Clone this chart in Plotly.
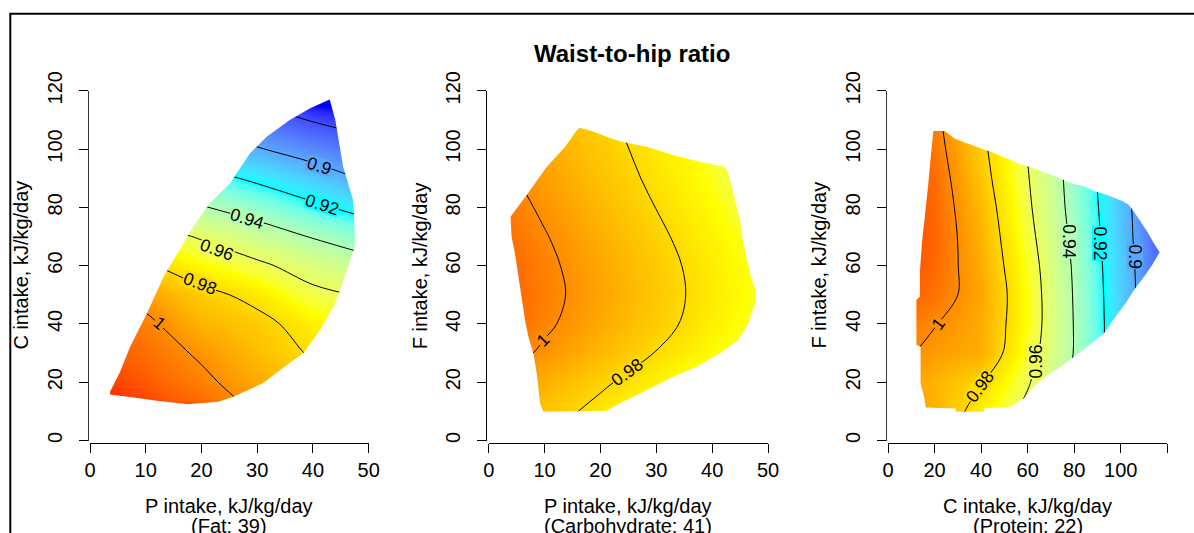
import numpy as np
import plotly.graph_objects as go

FONT = "Liberation Sans, Arial, Helvetica, sans-serif"
W, H = 1194, 533

# ---------------------------------------------------------------- data
title = "Waist-to-hip ratio"
levels = [0.88, 0.90, 0.92, 0.94, 0.96, 0.98, 1.00]
z_lo, z_hi = 0.87, 1.02

grid_y = [0, 10, 20, 30, 40, 50, 60, 70, 80, 90, 100, 110, 120]

# Panel 1: protein (x) vs carbohydrate (y), fat held at 39
p1_x = [0, 10, 20, 30, 40, 50]
p1_z = [
    [1.026, 1.020, 1.016, 1.002, 0.990, 0.987],
    [1.022, 1.016, 1.011, 0.998, 0.988, 0.984],
    [1.018, 1.011, 1.003, 0.993, 0.985, 0.980],
    [1.013, 1.007, 0.998, 0.988, 0.9785, 0.975],
    [1.008, 1.003, 0.990, 0.984, 0.974, 0.967],
    [1.002, 0.995, 0.984, 0.976, 0.9637, 0.958],
    [0.992, 0.982, 0.971, 0.963, 0.953, 0.946],
    [0.978, 0.967, 0.9585, 0.948, 0.939, 0.930],
    [0.962, 0.950, 0.941, 0.933, 0.923, 0.914],
    [0.946, 0.934, 0.926, 0.917, 0.908, 0.898],
    [0.930, 0.918, 0.910, 0.901, 0.893, 0.886],
    [0.914, 0.902, 0.895, 0.887, 0.879, 0.873],
    [0.898, 0.886, 0.880, 0.874, 0.862, 0.858],
]
p1_hull_x = [43, 44, 45.4, 47.2, 47.5, 47.5, 46.1, 44, 41.3, 38.3, 35, 31, 25.7, 23,
             17.6, 12, 8.1, 3.6, 3.6, 5.4, 7.2, 10.2, 13.2, 16.4, 18.5, 21.5, 25.1,
             28.7, 31.7, 35.9, 39.5]
p1_hull_y = [117, 110, 94, 82.5, 72, 66.5, 58.5, 47, 38, 30, 25.5, 19.6, 15, 13.3,
             12.4, 13.6, 14.7, 15.8, 16.7, 23.6, 32.2, 43.6, 56.2, 66.5, 73.3, 81.4,
             88.2, 98.5, 104.2, 110, 114]

# Panel 2: protein (x) vs fat (y), carbohydrate held at 41
p2_x = [0, 10, 20, 30, 40, 50]
p2_z = [
    [0.9907, 0.9800, 0.9707, 0.9614, 0.9520, 0.9430],
    [0.9949, 0.9856, 0.9763, 0.9670, 0.9577, 0.9484],
    [1.0008, 0.9915, 0.9822, 0.9729, 0.9636, 0.9543],
    [1.0074, 0.9981, 0.9889, 0.9796, 0.9704, 0.9611],
    [1.0112, 1.0020, 0.9928, 0.9837, 0.9745, 0.9653],
    [1.0128, 1.0035, 0.9942, 0.9849, 0.9756, 0.9663],
    [1.0118, 1.0026, 0.9934, 0.9842, 0.9750, 0.9658],
    [1.0099, 1.0007, 0.9915, 0.9823, 0.9731, 0.9639],
    [1.0073, 0.9982, 0.9890, 0.9798, 0.9707, 0.9615],
    [1.0047, 0.9956, 0.9865, 0.9775, 0.9684, 0.9593],
    [1.0021, 0.9933, 0.9845, 0.9757, 0.9669, 0.9581],
    [0.9996, 0.9910, 0.9825, 0.9740, 0.9655, 0.9570],
    [0.9970, 0.9886, 0.9803, 0.9720, 0.9636, 0.9553],
]
p2_hull_x = [3.9, 6.8, 10.4, 13.7, 15.8, 16.3, 18.7, 21.1, 23.8, 28.3, 33, 37.8, 42.3,
             42.9, 43.8, 45, 45.6, 46.8, 47.7, 47.7, 46.5, 44.7, 41.4, 37.2, 33, 28.3,
             23.5, 21.1, 9.8, 9.2, 8.6, 8, 7.1, 6.5, 5.6, 4.7, 4.1]
p2_hull_y = [76.8, 84.2, 93.9, 100.8, 106.5, 107.3, 106, 104.2, 102.5, 100.8, 97.9,
             95.6, 93.9, 91.7, 84.8, 75.6, 67.6, 57.4, 51.6, 47.1, 40.2, 34.5, 29.9,
             25.3, 21.9, 17.3, 12.8, 10.2, 9.9, 12.8, 23, 29.9, 35.6, 41.3, 52.8, 64.2,
             69.9]

# Panel 3: carbohydrate (x) vs fat (y), protein held at 22
p3_x = [0, 20, 40, 60, 80, 100, 120]
p3_z = [
    [0.998, 0.9900, 0.9680, 0.9520, 0.9340, 0.9130, 0.8880],
    [0.999, 0.9913, 0.9739, 0.9560, 0.9353, 0.9120, 0.8860],
    [0.998, 0.9900, 0.9810, 0.9615, 0.9373, 0.9107, 0.8840],
    [1.005, 0.9960, 0.9918, 0.9664, 0.9394, 0.9096, 0.8820],
    [1.008, 1.0006, 0.9925, 0.9691, 0.9394, 0.9095, 0.8820],
    [1.013, 1.0060, 0.9940, 0.9691, 0.9389, 0.9090, 0.8814],
    [1.016, 1.0083, 0.9920, 0.9675, 0.9381, 0.9083, 0.8806],
    [1.016, 1.0091, 0.9905, 0.9649, 0.9363, 0.9074, 0.8790],
    [1.016, 1.0085, 0.9885, 0.9626, 0.9345, 0.9067, 0.8783],
    [1.014, 1.0074, 0.9856, 0.9609, 0.9336, 0.9052, 0.8756],
    [1.012, 1.0052, 0.9834, 0.9593, 0.9327, 0.9044, 0.8748],
    [1.010, 1.0032, 0.9816, 0.9581, 0.9320, 0.9037, 0.8741],
    [1.008, 1.0010, 0.9800, 0.9570, 0.9310, 0.9030, 0.8730],
]
p3_hull_x = [19.5, 24.3, 28.4, 32.6, 36.9, 40.5, 44.8, 48.4, 52, 55.8, 60.6, 64.4, 68,
             72.7, 76.3, 79.9, 84.6, 88.5, 92.8, 97.1, 100.7, 103.5, 105.7, 108.5,
             111.4, 114.3, 116.7, 113.5, 110, 105.7, 102.1, 97.8, 92.8, 85.6, 79.9,
             74.2, 68.4, 62.7, 58.4, 52.7, 41.2, 41.2, 29.1, 29.1, 16.2, 15.5, 14, 14,
             12.2, 12.2, 13.7, 13.7, 14.7, 15.9, 17.2, 18.3]
p3_hull_y = [106.2, 106.2, 103.7, 102.3, 101.1, 100, 98.9, 97.6, 96.5, 95.1, 93.9, 92.8,
             91.7, 90.4, 89.1, 88, 87.1, 85.6, 84.6, 83.3, 82.2, 80.8, 78.5, 75.1, 71.6,
             67.6, 64.6, 60.2, 56.2, 51.6, 47.1, 42.5, 36.8, 32.2, 28.7, 25.3, 22.5,
             18.5, 14.5, 11.6, 11, 9.9, 9.9, 11, 11.3, 15, 19.6, 32.2, 32.8, 48.2, 49.3,
             57.9, 68.8, 77.4, 87.1, 96.8]

x_titles = ["P intake, kJ/kg/day", "P intake, kJ/kg/day", "C intake, kJ/kg/day"]
x_subtitles = ["(Fat: 39)", "(Carbohydrate: 41)", "(Protein: 22)"]
y_titles = ["C intake, kJ/kg/day", "F intake, kJ/kg/day", "F intake, kJ/kg/day"]
x_ticks = [[0, 10, 20, 30, 40, 50], [0, 10, 20, 30, 40, 50],
           [0, 20, 40, 60, 80, 100, 120]]
x_tick_text = [["0", "10", "20", "30", "40", "50"], ["0", "10", "20", "30", "40", "50"],
               ["0", "20", "40", "60", "80", "100", ""]]
y_ticks = [0, 20, 40, 60, 80, 100, 120]

# contour label placement per panel: (level index, x, y, text angle)
label_spots = [
    [(1, 41.0, 94.2, 18), (2, 41.6, 80.8, 18), (3, 28.1, 76.2, 17),
     (4, 22.7, 65.6, 20), (5, 19.7, 53.9, 21), (6, 12.6, 40.3, 41)],
    [(6, 9.8, 34.6, -45), (5, 24.7, 23.4, -36)],
    [(6, 21.6, 40.2, -54), (5, 39.5, 18.5, -53), (4, 63.9, 27.0, -90),
     (3, 77.5, 68.2, 90), (2, 91.1, 67.6, 90), (1, 106.1, 63.1, 90)],
]

# ---------------------------------------------------------------- colour ramp
# blue -> cyan -> yellow -> red, interpolated in CIE Lab
_M = np.array([[0.4124, 0.3576, 0.1805],
               [0.2126, 0.7152, 0.0722],
               [0.0193, 0.1192, 0.9505]])
_WHITE = np.array([0.95047, 1.0, 1.08883])
_D = 6 / 29


def to_lab(rgb):
    c = np.asarray(rgb, float) / 255.0
    lin = np.where(c <= 0.04045, c / 12.92, ((c + 0.055) / 1.055) ** 2.4)
    t = (_M @ lin) / _WHITE
    f = np.where(t > _D ** 3, np.cbrt(t), t / (3 * _D ** 2) + 4 / 29)
    return np.array([116 * f[1] - 16, 500 * (f[0] - f[1]), 200 * (f[1] - f[2])])


def from_lab(lab):
    L, a, b = lab
    fy_ = (L + 16) / 116
    f = np.array([fy_ + a / 500, fy_, fy_ - b / 200])
    t = np.where(f > _D, f ** 3, 3 * _D ** 2 * (f - 4 / 29))
    lin = np.clip(np.linalg.solve(_M, t * _WHITE), 0, 1)
    c = np.where(lin <= 0.0031308, 12.92 * lin, 1.055 * lin ** (1 / 2.4) - 0.055)
    return np.clip(np.round(c * 255), 0, 255).astype(int)


_anchors = [to_lab(c) for c in [(0, 0, 255), (0, 255, 255), (255, 255, 0), (255, 0, 0)]]


def ramp(t):
    t = min(max(t, 0.0), 1.0)
    seg = min(int(t * 3), 2)
    u = t * 3 - seg
    r, g, b = from_lab((1 - u) * _anchors[seg] + u * _anchors[seg + 1])
    return f"rgb({r},{g},{b})"


colorscale = [[i / 60, ramp(i / 60)] for i in range(61)]


def level_colour(v):
    return ramp((v - z_lo) / (z_hi - z_lo))


# ---------------------------------------------------------------- layout geometry (px)
x_left = [90.0, 488.7, 888.0]
x_right = [368.7, 768.0, 1167.3]
x_max = [50, 50, 120]
y_bottom, y_top = 440.5, 90.7
x_line_y = 442.6
y_line_gap = 2.5


def fx(p):
    return p / W


def fy(p):
    return 1 - p / H


def paper_rect(x0, y0, x1, y1):
    return (f"M {fx(x0):.5f} {fy(y0):.5f} L {fx(x1):.5f} {fy(y0):.5f} "
            f"L {fx(x1):.5f} {fy(y1):.5f} L {fx(x0):.5f} {fy(y1):.5f} Z ")


panels = [(p1_x, p1_z, p1_hull_x, p1_hull_y),
          (p2_x, p2_z, p2_hull_x, p2_hull_y),
          (p3_x, p3_z, p3_hull_x, p3_hull_y)]

fig = go.Figure()
layout = dict(template="none", width=W, height=H,
              margin=dict(l=0, r=0, t=0, b=0, pad=0, autoexpand=False),
              paper_bgcolor="white", plot_bgcolor="white", showlegend=False,
              font=dict(family=FONT, color="black"))
shapes, annotations = [], []

for i, (px_, pz, hx, hy) in enumerate(panels):
    n = "" if i == 0 else str(i + 1)
    xa, ya = "x" + n, "y" + n

    fig.add_trace(go.Heatmap(x=px_, y=grid_y, z=pz, zsmooth="best",
                             colorscale=colorscale, zmin=z_lo, zmax=z_hi,
                             showscale=False, hoverinfo="skip", xaxis=xa, yaxis=ya))
    fig.add_trace(go.Contour(x=px_, y=grid_y, z=pz, autocontour=False,
                             contours=dict(start=levels[0], end=levels[-1],
                                           size=round(levels[1] - levels[0], 4),
                                           coloring="none", showlabels=False),
                             line=dict(color="black", width=1, smoothing=1),
                             showscale=False, hoverinfo="skip", xaxis=xa, yaxis=ya))

    # white cover outside the sampled intake region
    xm = x_max[i]
    outer = f"M -10 -10 L {xm + 10} -10 L {xm + 10} 130 L -10 130 Z "
    hull = "M " + " L ".join(f"{a:.2f} {b:.2f}" for a, b in zip(hx, hy)) + " Z"
    shapes.append(dict(type="path", path=outer + hull, xref=xa, yref=ya,
                       fillcolor="white", fillrule="evenodd",
                       line=dict(width=0), layer="above"))
    # thin white band along the plot-area edge (hides image edge bleed)
    band = (paper_rect(x_left[i] - 1.2, y_top - 1.5, x_right[i] + 1.5, y_bottom + 1.2)
            + paper_rect(x_left[i] + 1, y_top + 1, x_right[i] - 1, y_bottom - 1))
    shapes.append(dict(type="path", path=band, xref="paper", yref="paper",
                       fillcolor="white", fillrule="evenodd",
                       line=dict(width=0), layer="above"))

    axis_common = dict(showgrid=False, zeroline=False, showline=True, automargin=False,
                       linecolor="black", linewidth=1, ticks="outside",
                       ticklen=9, tickwidth=1, tickcolor="black",
                       tickfont=dict(family=FONT, size=20, color="black"))
    layout["xaxis" + n] = dict(axis_common, domain=[fx(x_left[i]), fx(x_right[i])],
                               range=[0, xm], anchor="free", position=fy(x_line_y),
                               tickmode="array", tickvals=x_ticks[i],
                               ticktext=x_tick_text[i], ticklabelstandoff=0)
    layout["yaxis" + n] = dict(axis_common, domain=[fy(y_bottom), fy(y_top)],
                               range=[0, 120], anchor="free",
                               position=fx(x_left[i] - y_line_gap),
                               tickmode="array", tickvals=y_ticks,
                               ticktext=[str(v) for v in y_ticks],
                               tickangle=-90, ticklabelstandoff=9)

    cx = (x_left[i] + x_right[i]) / 2
    annotations.append(dict(text=x_titles[i], x=fx(cx), y=fy(506.2), xref="paper",
                            yref="paper", xanchor="center", yanchor="middle",
                            showarrow=False, font=dict(size=20)))
    annotations.append(dict(text=x_subtitles[i], x=fx(cx), y=fy(525.6), xref="paper",
                            yref="paper", xanchor="center", yanchor="middle",
                            showarrow=False, font=dict(size=20)))
    annotations.append(dict(text=y_titles[i], x=fx(x_left[i] - y_line_gap - 66.5),
                            y=fy((y_bottom + y_top) / 2), xref="paper", yref="paper",
                            xanchor="center", yanchor="middle", textangle=-90,
                            showarrow=False, font=dict(size=20)))

    # level labels sit in a tight box of the level's own colour, breaking the line
    for li, lx, ly, ang in label_spots[i]:
        lv = levels[li]
        annotations.append(dict(text=f"{lv:g}", x=lx, y=ly, xref=xa, yref=ya,
                                showarrow=False, textangle=ang, borderpad=0,
                                height=15, valign="middle",
                                bgcolor=level_colour(lv),
                                font=dict(size=17.5, color="black")))

annotations.append(dict(text=f"<b>{title}</b>", x=fx(631.7), y=fy(53.7), xref="paper",
                        yref="paper", xanchor="center", yanchor="middle",
                        showarrow=False, font=dict(size=24)))

# frame around the figure
shapes.append(dict(type="rect", xref="paper", yref="paper", x0=fx(10.3), y0=-0.2,
                   x1=1.2, y1=fy(13.7), line=dict(color="black", width=2),
                   fillcolor="rgba(0,0,0,0)"))

layout["shapes"] = shapes
layout["annotations"] = annotations
fig.update_layout(**layout)
fig.write_html("out.html")
